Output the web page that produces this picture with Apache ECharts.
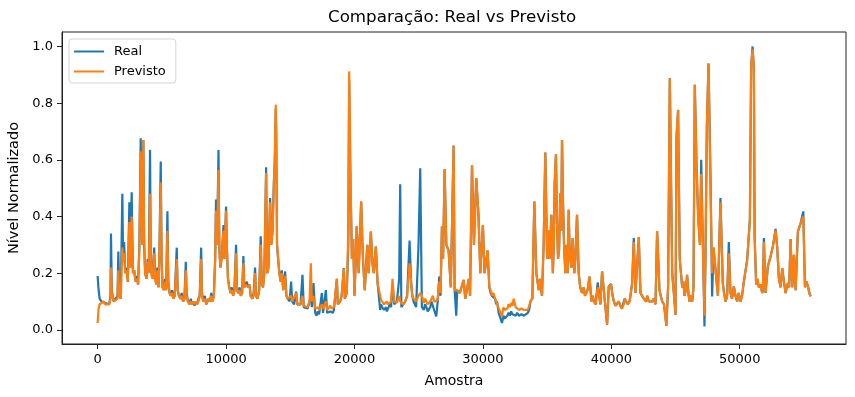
<!DOCTYPE html>
<html>
<head>
<meta charset="utf-8">
<script src="https://cdn.jsdelivr.net/npm/echarts@6/dist/echarts.min.js"></script>
<style>
  html, body { margin: 0; padding: 0; background: #fff; }
  #chart { width: 855px; height: 397px; }
</style>
</head>
<body>
<div id="chart"></div>
<script>
// amostras (eixo x)
var sampleIdx = [
    0, 60, 150, 300, 450, 600, 750, 900, 1000, 1040,
    1100, 1250, 1400, 1550, 1612, 1680, 1800, 1924, 1980, 2060,
    2150, 2250, 2350, 2470, 2550, 2650, 2750, 2850, 2950, 3050,
    3150, 3250, 3354, 3420, 3480, 3560, 3620, 3700, 3800, 3900,
    3980, 4080, 4130, 4200, 4300, 4400, 4480, 4560, 4650, 4750,
    4820, 4914, 4980, 5050, 5150, 5250, 5340, 5434, 5500, 5600,
    5700, 5800, 5900, 6000, 6162, 6230, 6330, 6450, 6550, 6650,
    6760, 6864, 6930, 7030, 7150, 7250, 7350, 7450, 7550, 7650,
    7750, 7850, 7950, 8060, 8120, 8230, 8350, 8450, 8550, 8650,
    8750, 8850, 8950, 9050, 9150, 9220, 9300, 9412, 9480, 9560,
    9650, 9800, 9870, 10000, 10060, 10150, 10250, 10350, 10450, 10550,
    10650, 10780, 10850, 10950, 11050, 11150, 11250, 11350, 11420, 11520,
    11620, 11720, 11820, 11920, 12050, 12150, 12260, 12330, 12450, 12580,
    12700, 12780, 12880, 12980, 13120, 13200, 13300, 13430, 13520, 13620,
    13720, 13800, 13870, 13920, 13970, 14050, 14150, 14250, 14340, 14450,
    14600, 14700, 14800, 14950, 15066, 15150, 15300, 15456, 15550, 15700,
    15800, 15950, 16050, 16200, 16350, 16500, 16600, 16680, 16807, 16940,
    17050, 17250, 17460, 17550, 17650, 17770, 17870, 18000, 18236, 18400,
    18630, 18700, 18885, 19000, 19170, 19250, 19400, 19520, 19586, 19650,
    19740, 19800, 19900, 20000, 20100, 20170, 20250, 20330, 20520, 20650,
    20800, 21000, 21100, 21275, 21400, 21500, 21665, 21800, 22000, 22150,
    22300, 22450, 22600, 22750, 22960, 23100, 23300, 23480, 23560, 23650,
    23800, 23950, 24100, 24290, 24420, 24500, 24600, 24800, 24980, 25120,
    25250, 25400, 25600, 25800, 26000, 26200, 26367, 26600, 26700, 26810,
    26900, 27020, 27150, 27330, 27500, 27720, 27800, 27925, 28000, 28200,
    28500, 28630, 28900, 29000, 29150, 29300, 29485, 29650, 29800, 30000,
    30130, 30370, 30500, 30700, 30950, 31100, 31230, 31485, 31700, 31900,
    32000, 32400, 32550, 32800, 33000, 33200, 33500, 33700, 33850, 34005,
    34160, 34350, 34600, 34860, 35000, 35200, 35330, 35450, 35590, 35690,
    35850, 36030, 36160, 36320, 36420, 36680, 36810, 36990, 37120, 37330,
    37460, 37720, 38030, 38300, 38450, 38650, 38940, 39150, 39280, 39500,
    39670, 39800, 39980, 40200, 40450, 40700, 40970, 41050, 41280, 41620,
    41750, 41880, 42140, 42270, 42530, 42920, 43180, 43440, 43566, 43750,
    43960, 44290, 44420, 44555, 44740, 44870, 45000, 45075, 45200, 45330,
    45520, 45700, 45900, 46090, 46300, 46500, 46630, 46760, 46900, 47000,
    47130, 47255, 47330, 47440, 47570, 47723, 47850, 47960, 48114, 48300,
    48500, 48680, 48900, 49150, 49280, 49540, 49800, 50060, 50320, 50580,
    50790, 50890, 51000, 51100, 51160, 51280, 51490, 51750, 51880, 52010,
    52190, 52400, 52580, 52790, 52920, 53050, 53310, 53570, 53750, 53960,
    54090, 54220, 54350, 54530, 54740, 54950, 55080, 55310, 55520
];

// nível real (normalizado)
var realVals = [
    .19, .15, .11, .10, .105, .095, .10, .09, .12, .34,
    .14, .10, .095, .12, .276, .13, .11, .48, .25, .31,
    .2, .22, .17, .45, .22, .485, .2, .21, .17, .19,
    .16, .3, .676, .4, .3, .67, .3, .2, .18, .25,
    .2, .635, .3, .2, .18, .29, .19, .16, .22, .15,
    .3, .594, .25, .15, .14, .18, .14, .418, .17, .13,
    .12, .14, .11, .12, .29, .14, .12, .11, .13, .1,
    .11, .24, .13, .1, .09, .11, .09, .1, .085, .1,
    .09, .11, .12, .29, .13, .1, .12, .09, .1, .11,
    .1, .13, .1, .12, .25, .46, .3, .635, .28, .22,
    .25, .37, .25, .435, .3, .18, .15, .13, .15, .12,
    .14, .3, .14, .13, .15, .12, .13, .26, .15, .16,
    .17, .15, .16, .12, .11, .13, .22, .12, .11, .14,
    .33, .16, .15, .2, .574, .2, .22, .465, .3, .35,
    .52, .6, .78, .6, .3, .25, .2, .17, .21, .14,
    .206, .12, .11, .1, .17, .1, .09, .135, .09, .085,
    .09, .194, .08, .08, .075, .1, .12, .08, .165, .06,
    .05, .055, .13, .06, .055, .14, .06, .055, .07, .07,
    .18, .09, .1, .12, .218, .11, .13, .3, .88, .6,
    .4, .25, .32, .12, .25, .365, .3, .2, .453, .26,
    .14, .3, .2, .347, .235, .2, .294, .165, .07, .08,
    .07, .08, .07, .09, .16, .09, .1, .18, .514, .08,
    .09, .1, .12, .315, .16, .12, .1, .08, .29, .57,
    .08, .07, .08, .07, .1, .07, .047, .188, .12, .365,
    .25, .567, .3, .28, .15, .65, .14, .05, .14, .13,
    .176, .11, .18, .12, .58, .3, .535, .41, .2, .37,
    .2, .28, .15, .12, .11, .1, .06, .024, .04, .05,
    .06, .06, .05, .05, .055, .05, .06, .1, .11, .453,
    .2, .14, .12, .626, .25, .25, .406, .2, .518, .62,
    .25, .482, .67, .3, .2, .424, .25, .324, .2, .406,
    .2, .13, .12, .188, .1, .1, .167, .09, .206, .1,
    .018, .153, .162, .1, .09, .085, .1, .11, .09, .165,
    .324, .13, .327, .13, .11, .1, .1, .09, .349, .14,
    .1, .014, .15, .888, .2, .13, .053, .68, .776, .25,
    .15, .12, .194, .1, .1, .865, .59, .4, .3, .6,
    .3, .012, .25, .72, .94, .54, .118, .29, .29, .12,
    .465, .165, .1, .31, .13, .153, .1, .1, .17, .247,
    .388, .93, 1.0, .924, .33, .16, .15, .13, .324, .13,
    .224, .259, .294, .356, .29, .18, .218, .13, .165, .32,
    .15, .265, .14, .347, .376, .418, .15, .153, .118
];

// nível previsto pelo modelo
var prevVals = [
    .024, .07, .09, .095, .10, .09, .095, .09, .11, .22,
    .13, .10, .095, .11, .21, .12, .11, .29, .24, .27,
    .2, .21, .17, .38, .22, .40, .2, .21, .17, .18,
    .16, .28, .63, .42, .3, .67, .33, .2, .18, .24,
    .2, .48, .3, .19, .18, .27, .18, .16, .21, .15,
    .29, .52, .25, .15, .14, .17, .14, .35, .17, .13,
    .12, .13, .11, .12, .25, .14, .12, .11, .12, .1,
    .11, .21, .12, .1, .09, .1, .09, .1, .09, .1,
    .09, .1, .12, .25, .12, .1, .11, .09, .1, .11,
    .1, .12, .1, .12, .24, .42, .3, .565, .28, .22,
    .25, .35, .25, .42, .3, .18, .15, .13, .14, .12,
    .14, .27, .14, .13, .14, .12, .13, .235, .15, .16,
    .16, .15, .16, .12, .11, .12, .2, .12, .11, .14,
    .3, .16, .15, .2, .553, .2, .22, .45, .3, .35,
    .5, .62, .794, .69, .3, .26, .2, .17, .2, .14,
    .19, .12, .11, .105, .12, .1, .095, .13, .09, .09,
    .09, .12, .085, .085, .08, .1, .235, .1, .12, .075,
    .07, .07, .09, .075, .07, .1, .07, .07, .075, .08,
    .18, .09, .1, .12, .215, .11, .13, .35, .912, .71,
    .4, .25, .32, .12, .25, .365, .3, .2, .453, .26,
    .14, .3, .2, .347, .235, .2, .294, .165, .12, .1,
    .09, .085, .09, .09, .18, .1, .095, .12, .1, .095,
    .09, .1, .12, .235, .23, .12, .11, .1, .12, .13,
    .12, .095, .1, .09, .11, .1, .1, .17, .13, .365,
    .25, .567, .3, .28, .15, .65, .14, .14, .14, .13,
    .176, .11, .18, .12, .58, .3, .535, .41, .2, .37,
    .2, .28, .15, .12, .11, .1, .076, .047, .07, .075,
    .09, .11, .08, .07, .075, .07, .07, .1, .11, .453,
    .2, .14, .12, .626, .25, .25, .406, .2, .518, .62,
    .25, .482, .67, .3, .2, .424, .25, .324, .2, .406,
    .2, .13, .12, .188, .1, .1, .15, .09, .206, .1,
    .02, .153, .16, .1, .09, .085, .09, .11, .09, .165,
    .31, .13, .327, .13, .11, .1, .1, .09, .349, .14,
    .1, .014, .15, .888, .2, .13, .053, .68, .776, .25,
    .15, .12, .194, .1, .1, .865, .59, .4, .3, .55,
    .3, .05, .25, .72, .94, .5, .2, .29, .29, .12,
    .45, .165, .1, .27, .13, .153, .1, .1, .17, .247,
    .388, .93, .99, .924, .33, .16, .15, .13, .31, .13,
    .224, .259, .294, .35, .29, .18, .218, .13, .165, .32,
    .15, .265, .14, .347, .376, .4, .15, .153, .118
];

// pontos extra da linha de base (oscilações pequenas entre os picos)
var extraIdx = [
    17150, 18120, 18320, 22070, 22520, 22850, 25500, 25700, 25900, 26100,
    26480, 30600, 30820, 31030, 31600, 31800, 32100, 32200, 32300, 32670,
    32900, 33100, 33350, 33600, 34450, 34730, 35100, 35520, 35760, 35930,
    36100, 36240, 36520, 36600, 36740, 36900, 37050, 37200, 37580, 37850,
    37950, 38150, 38550, 38780, 40100, 40320, 40580, 40830, 41160, 41420,
    41520, 42400, 42700, 42800, 43050, 43300, 43850, 44100, 45610, 45800,
    46000, 46200, 46400, 48780, 49020, 49400, 49670, 49920, 50180, 51380,
    51620, 51800, 53180, 53440, 53660, 53850, 55200, 55420
];
var extraReal = [
    .065, .065, .06, .09, .065, .08, .09, .065, .08, .085,
    .1, .13, .12, .09, .05, .045, .05, .065, .055, .06,
    .045, .06, .055, .07, .18, .3, .35, .3, .4, .28,
    .35, .45, .3, .2, .3, .22, .26, .25, .15, .15,
    .12, .14, .12, .09, .12, .085, .1, .075, .1, .1,
    .13, .12, .1, .12, .095, .11, .12, .09, .17, .14,
    .13, .12, .15, .13, .12, .11, .12, .13, .12, .18,
    .16, .14, .15, .17, .15, .15, .17, .13
];
var extraPrev = [
    .08, .085, .07, .105, .1, .1, .11, .09, .1, .12,
    .11, .14, .13, .1, .08, .065, .08, .095, .085, .08,
    .065, .08, .075, .085, .18, .3, .35, .3, .4, .28,
    .35, .45, .3, .2, .3, .22, .26, .25, .15, .15,
    .12, .14, .12, .09, .12, .085, .1, .075, .1, .1,
    .13, .12, .1, .12, .095, .11, .12, .09, .17, .14,
    .13, .12, .15, .13, .12, .11, .12, .13, .12, .18,
    .16, .14, .15, .17, .15, .15, .17, .13
];

var xTicks = [0, 10000, 20000, 30000, 40000, 50000];
var yTicks = [0, 0.2, 0.4, 0.6, 0.8, 1.0];

var font = 'DejaVu Sans';

// junta os pontos principais e os extras, ordenados pela amostra
function buildSeries(idx, vals, xIdx, xVals) {
    var pts = idx.map(function (x, i) { return [x, vals[i]]; });
    xIdx.forEach(function (x, i) { pts.push([x, xVals[i]]); });
    pts.sort(function (a, b) { return a[0] - b[0]; });
    return pts;
}

var realData = buildSeries(sampleIdx, realVals, extraIdx, extraReal);
var prevData = buildSeries(sampleIdx, prevVals, extraIdx, extraPrev);

var chart = echarts.init(document.getElementById('chart'));

var option = {
    animation: false,
    backgroundColor: '#fff',
    title: {
        text: 'Comparação: Real vs Previsto',
        left: 328,
        top: 9,
        padding: 0,
        textStyle: { fontFamily: font, fontSize: 16.7, fontWeight: 'normal', color: '#000' }
    },
    legend: {
        left: 69,
        top: 39,
        orient: 'vertical',
        padding: [6, 10, 5, 5],
        itemGap: 7,
        itemWidth: 30,
        itemHeight: 2,
        icon: 'rect',
        borderColor: '#d5d5d5',
        borderWidth: 1,
        borderRadius: 3,
        backgroundColor: 'rgba(255,255,255,0.8)',
        textStyle: { fontFamily: font, fontSize: 13, color: '#000', padding: [0, 0, 0, 5] },
        data: ['Real', 'Previsto']
    },
    grid: {
        left: 62,
        right: 9,
        top: 32,
        bottom: 53,
        outerBoundsMode: 'none',
        show: true,
        borderColor: '#222',
        borderWidth: 1
    },
    xAxis: {
        type: 'value',
        min: -2775,
        max: 58275,
        name: 'Amostra',
        nameLocation: 'middle',
        nameGap: 30,
        nameTextStyle: { fontFamily: font, fontSize: 14, color: '#000' },
        axisLine: { onZero: false, lineStyle: { color: '#222', width: 1 } },
        axisTick: { show: true, length: 5, lineStyle: { color: '#222' }, customValues: xTicks },
        axisLabel: {
            fontFamily: font, fontSize: 13, color: '#000', margin: 9, customValues: xTicks,
            formatter: function (v) { return String(v); }
        },
        splitLine: { show: false }
    },
    yAxis: {
        type: 'value',
        min: -0.05,
        max: 1.051,
        name: 'Nível Normalizado',
        nameLocation: 'middle',
        nameGap: 38,
        nameTextStyle: { fontFamily: font, fontSize: 14.5, color: '#000' },
        axisLine: { show: true, onZero: false, lineStyle: { color: '#222', width: 1 } },
        axisTick: { show: true, length: 5, lineStyle: { color: '#222' }, customValues: yTicks },
        axisLabel: {
            fontFamily: font, fontSize: 13, color: '#000', margin: 9, customValues: yTicks,
            formatter: function (v) { return v.toFixed(1); }
        },
        splitLine: { show: false }
    },
    series: [
        {
            name: 'Real',
            type: 'line',
            data: realData,
            showSymbol: false,
            color: '#1f77b4',
            lineStyle: { width: 2.2, color: '#1f77b4' }
        },
        {
            name: 'Previsto',
            type: 'line',
            data: prevData,
            showSymbol: false,
            color: '#ff7f0e',
            lineStyle: { width: 2.2, color: '#ff7f0e' }
        }
    ]
};

chart.setOption(option);
</script>
</body>
</html>
